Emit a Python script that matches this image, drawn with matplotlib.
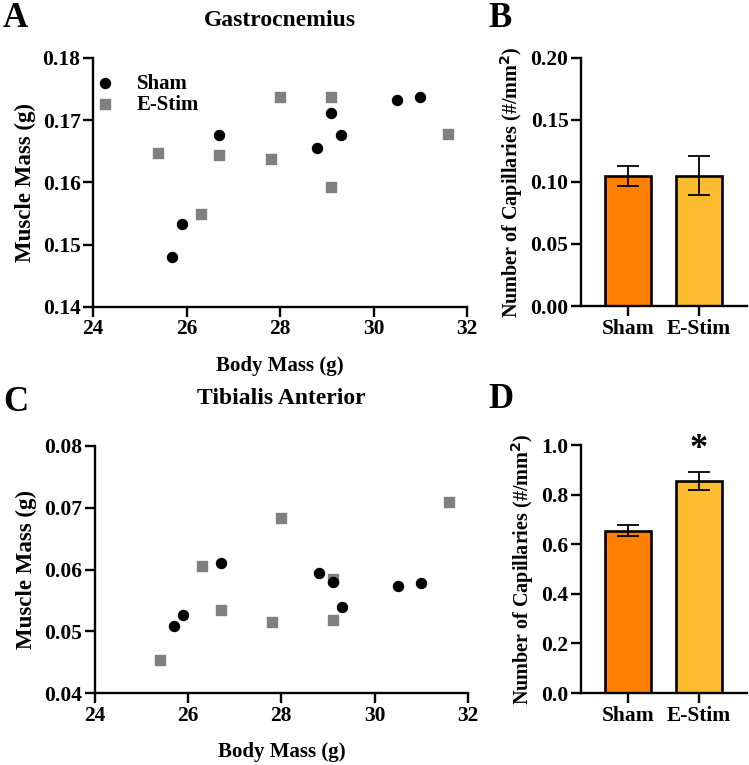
import matplotlib.pyplot as plt

plt.rcParams["font.family"] = "Liberation Serif"
plt.rcParams["font.weight"] = "bold"

# Gastrocnemius (panel A)
gas_sham_x = [25.7, 25.9, 26.7, 28.8, 29.1, 29.3, 30.5, 31.0]
gas_sham_y = [0.148, 0.1533, 0.1677, 0.1656, 0.1711, 0.1677, 0.1733, 0.1737]
gas_estim_x = [25.4, 26.3, 26.7, 27.8, 28.0, 29.1, 29.1, 31.6]
gas_estim_y = [0.1647, 0.1550, 0.1644, 0.1638, 0.1737, 0.1738, 0.1592, 0.1678]

# Tibialis anterior (panel C)
ta_sham_x = [25.7, 25.9, 26.7, 28.8, 29.1, 29.3, 30.5, 31.0]
ta_sham_y = [0.0508, 0.0527, 0.0611, 0.0594, 0.0580, 0.0539, 0.0574, 0.0578]
ta_estim_x = [25.4, 26.3, 26.7, 27.8, 28.0, 29.1, 29.1, 31.6]
ta_estim_y = [0.0453, 0.0606, 0.0534, 0.0515, 0.0684, 0.0584, 0.0518, 0.0709]

# capillary bars (panels B and D)
groups = ["Sham", "E-Stim"]
cap_b = [0.105, 0.105]
cap_b_err = [0.008, 0.0158]
cap_d = [0.655, 0.856]
cap_d_err = [0.023, 0.036]
bar_colors = ["#FF8000", "#FDBB2F"]

fig = plt.figure(figsize=(7.49, 7.65), dpi=100)


def style_axes(ax, labelsize=15.5):
    for s in ["top", "right"]:
        ax.spines[s].set_visible(False)
    for s in ["left", "bottom"]:
        ax.spines[s].set_linewidth(1.7)
    ax.tick_params(width=1.7, length=7, labelsize=labelsize, pad=2)
    for lab in ax.get_xticklabels() + ax.get_yticklabels():
        lab.set_fontweight("bold")


def scatter_panel(rect, sx, sy, ex, ey, ylim, yticks, legend=False):
    ax = fig.add_axes(rect)
    ax.scatter(sx, sy, marker="o", s=52, color="black", label="Sham", zorder=3)
    ax.scatter(ex, ey, marker="s", s=52, color="#808080", label="E-Stim", zorder=2)
    ax.set_xlim(24, 32)
    ax.set_ylim(*ylim)
    ax.set_xticks([24, 26, 28, 30, 32])
    ax.set_yticks(yticks)
    ax.set_yticklabels([f"{t:.2f}" for t in yticks])
    ax.set_xlabel("Body Mass (g)", fontsize=15, fontweight="bold", labelpad=12)
    ax.set_ylabel("Muscle Mass (g)", fontsize=16.5, fontweight="bold", labelpad=5)
    style_axes(ax)
    if legend:
        ax.legend(loc="upper left", frameon=False, fontsize=15, handletextpad=0.5,
                  borderaxespad=0.0, labelspacing=0.05, markerscale=1.0,
                  bbox_to_anchor=(-0.045, 0.97))
    return ax


def bar_panel(rect, vals, errs, ylim, yticks, fmt, star=False):
    ax = fig.add_axes(rect)
    x = range(len(groups))
    ax.bar(x, vals, width=0.65, color=bar_colors, edgecolor="black", linewidth=1.9, zorder=2)
    ax.errorbar(x, vals, yerr=errs, fmt="none", ecolor="black", elinewidth=1.3,
                capsize=8, capthick=1.3, zorder=3)
    ax.set_xlim(-0.66, 1.68)
    ax.set_ylim(*ylim)
    ax.set_xticks(list(x))
    ax.set_xticklabels(groups)
    ax.set_yticks(yticks)
    ax.set_yticklabels([fmt.format(t) for t in yticks])
    ax.set_ylabel("Number of Capillaries (#/mm$^\\mathbf{2}$)", fontsize=14.5,
                  fontweight="bold", labelpad=4)
    style_axes(ax)
    if star:
        ax.text(1, vals[1] + errs[1] + 0.025, "*", ha="center", va="bottom",
                fontsize=26, fontweight="bold")
    return ax


scatter_panel([0.1242, 0.5987, 0.4993, 0.3255], gas_sham_x, gas_sham_y,
              gas_estim_x, gas_estim_y, (0.14, 0.18),
              [0.14, 0.15, 0.16, 0.17, 0.18], legend=True)
scatter_panel([0.1268, 0.0941, 0.4976, 0.3229], ta_sham_x, ta_sham_y,
              ta_estim_x, ta_estim_y, (0.04, 0.08),
              [0.04, 0.05, 0.06, 0.07, 0.08])
bar_panel([0.7757, 0.6, 0.2213, 0.3242], cap_b, cap_b_err, (0, 0.2),
          [0.0, 0.05, 0.10, 0.15, 0.20], "{:.2f}")
bar_panel([0.7757, 0.0941, 0.2213, 0.3242], cap_d, cap_d_err, (0, 1.0),
          [0.0, 0.2, 0.4, 0.6, 0.8, 1.0], "{:.1f}", star=True)

fig.text(0.374, 0.973, "Gastrocnemius", fontsize=17, fontweight="bold",
         ha="center", va="center")
fig.text(0.376, 0.479, "Tibialis Anterior", fontsize=17, fontweight="bold",
         ha="center", va="center")

for letter, (fx, fy) in zip("ABCD", [(0.004, 0.976), (0.652, 0.976),
                                      (0.004, 0.474), (0.652, 0.478)]):
    fig.text(fx, fy, letter, fontsize=25, fontweight="bold", va="center", ha="left")

fig.savefig("out.png", dpi=100)
